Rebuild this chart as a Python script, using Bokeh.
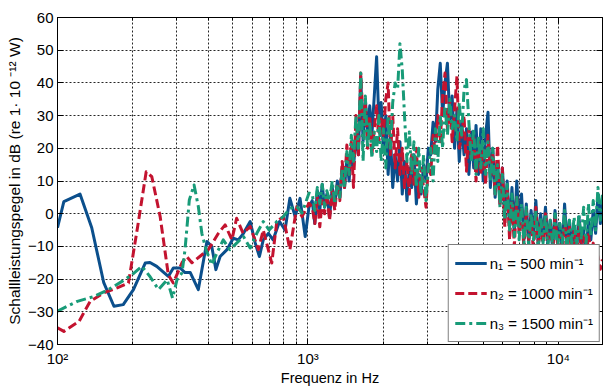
from bokeh.plotting import figure
from bokeh.models import FixedTicker, LogAxis, LinearAxis, Legend, LegendItem, Range1d
from bokeh.embed import file_html
from bokeh.resources import INLINE

# ---- data ----
# low-frequency part, per series
f1_low = [100, 106, 123, 137, 153, 168, 183, 201, 224, 234,
          249, 277, 290, 309, 323, 339, 365, 395, 413, 429,
          446, 475, 503, 527, 553, 588, 616, 640, 663, 695,
          726, 770, 810, 847, 889, 930, 975, 1010]
y1_low = [-4.3, 3.7, 6, -4.3, -21.1, -28.3, -27.8, -23.2, -15.1, -14.9,
          -16.1, -19.2, -16.6, -16.6, -18, -18, -23.2, -8.5, -10, -17.1,
          -13.1, -11, -7.5, -8, -6, -2.4, -9, -13.1, -8, -6,
          -8, -2.4, -5, 4.7, -0.9, 4.7, -7, 2.2]

f2_low = [100, 106, 122, 135, 153, 173, 192, 209, 226, 238,
          257, 277, 290, 314, 328, 344, 371, 400, 439, 467,
          497, 519, 551, 588, 634, 663, 717, 751, 797, 847,
          903, 947, 1010]
y2_low = [-34.9, -36, -32.9, -26.8, -24.2, -22.7, -21.2, -3.9, 12.8, 11.3,
          -0.9, -18.7, -21.2, -15, -13.1, -15, -13, -11, -6, -3.4,
          -8, -1.4, -6, -3.9, -11, -5, -15.1, -2.4, -0.9, -11,
          2.2, -0.9, 3.2]

f3_low = [100, 120, 140, 160, 181, 198, 217, 234, 253, 274,
          288, 300, 314, 323, 336, 351, 365, 377, 392, 413,
          433, 459, 488, 519, 553, 588, 625, 663, 700, 751,
          797, 847, 903, 947, 1010]
y3_low = [-29.8, -26.8, -25.3, -23.2, -20.7, -18.7, -16.1, -19.2, -23.2, -20.2,
          -25.8, -20.2, -18.1, -11, 4.2, 8.8, 2.2, -6, -11, -15.6,
          -12, -8, -11, -9, -7, -10.5, -6, -2.4, -5, -2.4,
          -0.9, 1.6, 2.2, 0.2, 6.3]

# dense (high-frequency) part, shared frequencies
f_dense = [1040, 1065, 1090, 1115, 1140, 1165, 1190, 1220, 1250, 1280,
           1310, 1340, 1370, 1400, 1430, 1460, 1490, 1520, 1555, 1590,
           1625, 1660, 1695, 1730, 1765, 1800, 1840, 1880, 1920, 1960,
           2000, 2045, 2090, 2135, 2180, 2230, 2280, 2330, 2380, 2430,
           2485, 2540, 2595, 2650, 2710, 2770, 2830, 2895, 2960, 3025,
           3090, 3160, 3230, 3300, 3375, 3450, 3525, 3605, 3685, 3765,
           3850, 3935, 4020, 4110, 4200, 4295, 4390, 4490, 4590, 4690,
           4795, 4900, 5010, 5120, 5235, 5350, 5470, 5590, 5715, 5845,
           5975, 6110, 6245, 6385, 6525, 6670, 6820, 6970, 7125, 7285,
           7445, 7610, 7780, 7955, 8130, 8310, 8495, 8685, 8880, 9075,
           9280, 9485, 9695, 9910, 10130, 10355, 10585, 10820, 11060, 11305,
           11555, 11810, 12075, 12340, 12615, 12895, 13180, 13475, 13775, 14080,
           14390, 14710, 15000]

y1_dense = [4, -3, 7, 1, 9, 2, 6, -1, 8, 3,
            10, 5, 14, 8, 17, 10, 20, 14, 24, 18,
            42, 22, 35, 25, 33, 24, 36, 48, 28, 34,
            20, 30, 12, 24, 8, 18, 10, 22, 6, 16,
            4, 14, 8, 18, 3, 12, 6, 15, 10, 20,
            18, 28, 22, 38, 46, 30, 40, 46, 28, 36,
            20, 32, 16, 28, 18, 26, 12, 25, 14, 27,
            12, 26, 10, 24, 31, 8, 20, 5, 16, 3,
            14, 0, 10, -4, 8, -6, 10, -3, 6, -8,
            3, -9, 1, -6, 4, -10, 0, -7, 2, -9,
            -2, -11, 1, -8, -3, -12, 3, -9, -2, -10,
            -4, -12, -1, -9, -5, -13, -2, -8, 1, -6,
            6, -3, 5]

y2_dense = [2, -3, 5, -4, 4, 0, 6, -2, 7, 1,
            9, 4, 16, 8, 21, 12, 22, 8, 30, 18,
            43, 28, 34, 20, 30, 18, 26, 33, 22, 29,
            24, 35, 40, 18, 30, 14, 26, 12, 20, 8,
            16, 6, 18, 9, 20, 5, 14, 8, 2, 15,
            12, 24, 18, 30, 22, 36, 43, 26, 34, 22,
            32, 42, 20, 24, 30, 13, 26, 18, 24, 10,
            22, 12, 20, 9, 24, 12, 18, 6, 21, 3,
            14, -4, 8, -8, 4, -10, 5, -6, 2, -11,
            1, -8, -1, -12, 2, -9, -2, -13, 0, -8,
            -3, -12, -1, -9, -6, -14, -1, -10, -4, -13,
            -5, -15, -3, -11, -7, -16, -6, -12, -9, -15,
            -13, -17, -14]

y3_dense = [6, 1, 8, 3, 9, 2, 7, 4, 10, 3,
            9, 5, 14, 8, 19, 12, 24, 16, 30, 20,
            43, 16, 36, 20, 28, 17, 25, 19, 30, 16,
            26, 14, 30, 20, 34, 40, 38, 52, 44, 30,
            16, 25, 12, 22, 8, 20, 6, 18, 4, 14,
            20, 10, 26, 16, 30, 20, 33, 24, 35, 26,
            30, 22, 34, 24, 38, 41, 28, 16, 26, 12,
            24, 14, 26, 12, 22, 10, 20, 6, 15, 2,
            12, -2, 9, -5, 6, -7, 5, -8, 3, -9,
            2, -10, 0, -8, 1, -11, -1, -9, 0, -10,
            -2, -10, 0, -11, -3, -9, 1, -12, -2, -9,
            -1, -10, 0, -8, 2, -9, 3, -7, 4, -5,
            8, -2, 6]

labels = ["n\u2081 = 500 min\u207b\u00b9", "n\u2082 = 1000 min\u207b\u00b9", "n\u2083 = 1500 min\u207b\u00b9"]
colors = ["#0b4f8c", "#c3132f", "#189b78"]
dashes = ["solid", "9 4", "10 4 3 4"]

x_major = [100, 1000, 10000]
x_minor = [200, 300, 400, 500, 600, 700, 800, 900,
           2000, 3000, 4000, 5000, 6000, 7000, 8000, 9000]
y_ticks = [-40, -30, -20, -10, 0, 10, 20, 30, 40, 50, 60]

FONT = "Liberation Sans"

p = figure(width=603, height=388, x_axis_type="log",
           x_range=Range1d(100, 15000), y_range=Range1d(-40, 60),
           output_backend="svg", toolbar_location=None,
           min_border_left=57, min_border_top=17, min_border_right=1, min_border_bottom=43,
           background_fill_color="white", border_fill_color="white")
p.outline_line_color = "black"
p.outline_line_width = 1

xt = FixedTicker(ticks=x_major, minor_ticks=x_minor)
yt = FixedTicker(ticks=y_ticks)

series = [(f1_low + f_dense, y1_low + y1_dense),
          (f2_low + f_dense, y2_low + y2_dense),
          (f3_low + f_dense, y3_low + y3_dense)]
renderers = []
for (fx, fy), c, d in zip(series, colors, dashes):
    r = p.line(fx, fy, line_color=c, line_width=3, line_dash=d, line_join="round")
    renderers.append(r)

# axes
p.xaxis.ticker = xt
p.yaxis.ticker = yt
p.xaxis.major_label_overrides = {100: "10\u00b2", 1000: "10\u00b3", 10000: "10\u2074"}
for ax in [p.xaxis[0], p.yaxis[0]]:
    ax.major_tick_in = 6
    ax.major_tick_out = 0
    ax.minor_tick_in = 3
    ax.minor_tick_out = 0
    ax.axis_line_color = "black"
    ax.major_tick_line_color = "black"
    ax.minor_tick_line_color = "black"
    ax.major_label_text_font = FONT
    ax.major_label_text_font_size = "15px"
    ax.major_label_text_color = "black"
    ax.axis_label_text_font = FONT
    ax.axis_label_text_font_size = "14.5px"
    ax.axis_label_text_font_style = "normal"
    ax.axis_label_text_color = "black"
p.xaxis.axis_label = "Frequenz in Hz"
p.yaxis.axis_label = "Schallleistungspegel in dB (re 1\u00b7 10 \u207b\u00b9\u00b2 W)"
p.yaxis.axis_label_text_font_size = "15.5px"
p.xaxis.major_label_standoff = 5
p.xaxis.axis_label_standoff = 0
p.yaxis.major_label_standoff = 4
p.yaxis.axis_label_standoff = 2

top = LogAxis(ticker=xt, major_tick_in=6, major_tick_out=0, minor_tick_in=3, minor_tick_out=0,
              major_label_text_font_size="2px", major_label_text_alpha=0.0,
              major_label_standoff=0)
right = LinearAxis(ticker=yt, major_tick_in=6, major_tick_out=0, minor_tick_in=0, minor_tick_out=0,
                   major_label_text_font_size="2px", major_label_text_alpha=0.0,
                   major_label_standoff=0)
p.add_layout(top, "above")
p.add_layout(right, "right")

# grid
p.xgrid.ticker = xt
p.ygrid.ticker = yt
for g in [p.xgrid[0], p.ygrid[0]]:
    g.grid_line_color = "black"
    g.grid_line_dash = "2 2"
    g.grid_line_width = 1
    g.grid_line_alpha = 0.85
p.xgrid.minor_grid_line_color = "black"
p.xgrid.minor_grid_line_dash = "2 2"
p.xgrid.minor_grid_line_alpha = 0.85

legend = Legend(items=[LegendItem(label=l, renderers=[r]) for l, r in zip(labels, renderers)],
                location="bottom_right", border_line_color="black", border_line_width=1,
                background_fill_color="white", background_fill_alpha=1.0,
                label_text_font=FONT, label_text_font_size="15px", label_text_color="black",
                glyph_width=32, glyph_height=24, label_height=24, spacing=6,
                padding=6, margin=2, label_standoff=3)
p.add_layout(legend)

open("out.html", "w").write(file_html(p, INLINE))
